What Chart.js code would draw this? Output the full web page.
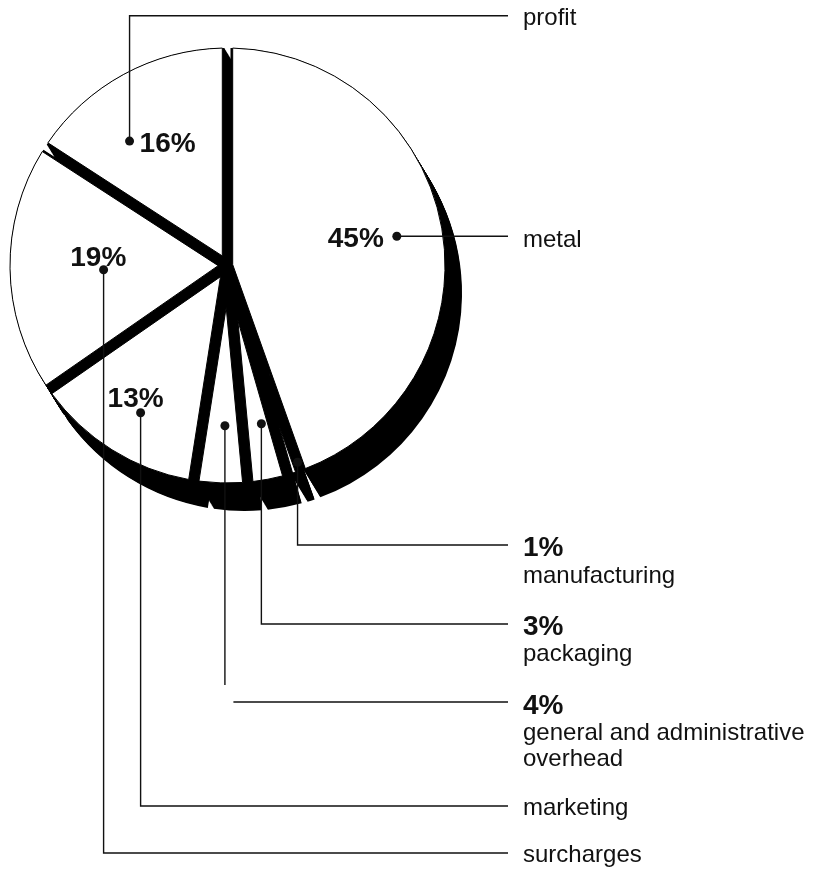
<!DOCTYPE html>
<html>
<head>
<meta charset="utf-8">
<title>Where the money goes</title>
<style>
  html, body { margin: 0; padding: 0; background: #fff; }
  canvas { display: block; }
</style>
<script src="https://cdn.jsdelivr.net/npm/chart.js@4.4.1/dist/chart.umd.min.js"></script>
</head>
<body>
<canvas id="pie" width="814" height="872"></canvas>
<script>
// ---- data -------------------------------------------------------------
const categories = ['metal', 'manufacturing', 'packaging',
  'general and administrative overhead', 'marketing', 'surcharges', 'profit'];
const shares = [45, 1, 3, 4, 13, 19, 16];
// how each category name is broken over lines in the right-hand column
const nameLines = [['metal'], ['manufacturing'], ['packaging'],
  ['general and administrative', 'overhead'], ['marketing'], ['surcharges'], ['profit']];

// ---- look -------------------------------------------------------------
const CHANNEL = 5.2;        // half width of the dark channel between slices (top faces)
const BASE_CHANNEL = 3;     // half width of the gap between the slab bases
const DEPTH = [17, 28];     // extrusion offset of the slab (x, y)
const WALL_REACH = 3;       // side walls seen down the channels reach further
const SIDE_COLOR = '#000';
const LINE_COLOR = '#111';
const TEXT_COLOR = '#111';
const BOLD_FONT = 'bold 28px "Liberation Sans", Arial, Helvetica, sans-serif';
const NAME_FONT = '24px "Liberation Sans", Arial, Helvetica, sans-serif';
const COLUMN_END = 508;     // where the leader lines stop
const COLUMN_TEXT = 523;    // left edge of the right-hand column text

// Callout placement per slice: where the dot sits inside the slice
// (fraction of the slice's sweep, fraction of the radius), where the leader
// turns, and where the texts go.
const callouts = [
  { at: [0.50, 0.79], turnY: null, pct: { side: 'inside', align: 'right', dx: -13, dy: 10.5 }, nameY: [247] },
  { at: [0.00, 0.96], turnY: 545, pct: { side: 'column', y: 556 }, nameY: [583] },
  { at: [0.37, 0.744], turnY: 624, pct: { side: 'column', y: 635 }, nameY: [661] },
  { at: [0.44, 0.737], turnY: 702, stopY: 685, resumeDx: 8.5, pct: { side: 'column', y: 714 }, nameY: [740, 766] },
  { at: [0.467, 0.786], turnY: 806, pct: { side: 'inside', align: 'center', dx: -5, dy: -5.3 }, nameY: [815] },
  { at: [0.484, 0.57], turnY: 853, pct: { side: 'inside', align: 'center', dx: -5.3, dy: -3.3 }, nameY: [862] },
  { at: [0.33, 0.728], turnY: 15.7, pct: { side: 'inside', align: 'left', dx: 10, dy: 11 }, nameY: [25] }
];

// ---- slab-style slice -------------------------------------------------
// A pie slice drawn as a wedge pulled in from its neighbours on both
// straight edges, so that every slice is separated by an even gap.
class SlabArc extends Chart.ArcElement {
  tracePath(ctx, dx, dy, channel = CHANNEL) {
    const { x, y, startAngle, endAngle, outerRadius } =
      this.getProps(['x', 'y', 'startAngle', 'endAngle', 'outerRadius'], true);
    const half = (endAngle - startAngle) / 2;
    if (half <= 0) return false;
    const apex = channel / Math.sin(Math.min(half, Math.PI / 2));
    if (apex >= outerRadius) return false;
    const cut = Math.asin(channel / outerRadius);
    const mid = startAngle + half;
    const cx = x + dx, cy = y + dy;
    ctx.beginPath();
    ctx.moveTo(cx + Math.cos(mid) * apex, cy + Math.sin(mid) * apex);
    ctx.lineTo(cx + Math.cos(startAngle + cut) * outerRadius,
               cy + Math.sin(startAngle + cut) * outerRadius);
    ctx.arc(cx, cy, outerRadius, startAngle + cut, endAngle - cut);
    ctx.closePath();
    return true;
  }
  draw(ctx) {
    const o = this.options;
    ctx.save();
    if (this.tracePath(ctx, 0, 0)) {
      ctx.fillStyle = o.backgroundColor;
      ctx.fill();
      if (o.borderWidth > 0) {
        ctx.lineWidth = o.borderWidth;
        ctx.strokeStyle = o.borderColor;
        ctx.lineJoin = 'round';
        ctx.stroke();
      }
    }
    ctx.restore();
  }
}
SlabArc.id = 'slabArc';
Chart.register(SlabArc);
Chart.defaults.datasets.pie.dataElementType = 'slabArc';

// Black extrusion under the slices: each slice is swept along DEPTH.
const slabSides = {
  id: 'slabSides',
  beforeDatasetsDraw(chart) {
    const ctx = chart.ctx;
    const arcs = chart.getDatasetMeta(0).data;
    if (!arcs.length) return;
    const { x, y, outerRadius } = arcs[0].getProps(['x', 'y', 'outerRadius'], true);
    const steps = Math.ceil(Math.hypot(DEPTH[0], DEPTH[1]));
    ctx.save();
    ctx.fillStyle = SIDE_COLOR;
    for (let k = 0; k <= steps; k++) {
      const t = k / steps;
      arcs.forEach(a => { if (a.tracePath(ctx, DEPTH[0] * t, DEPTH[1] * t, BASE_CHANNEL)) ctx.fill(); });
    }
    // inside the disc the walls fill the channels completely
    ctx.beginPath();
    ctx.arc(x, y, outerRadius, 0, Math.PI * 2);
    ctx.clip();
    const inner = steps * WALL_REACH;
    for (let k = 0; k <= inner; k++) {
      const t = WALL_REACH * k / inner;
      arcs.forEach(a => { if (a.tracePath(ctx, DEPTH[0] * t, DEPTH[1] * t)) ctx.fill(); });
    }
    ctx.restore();
  }
};

// Leader lines, dots, percentages and names.
const callout = {
  id: 'callout',
  afterDatasetsDraw(chart) {
    const ctx = chart.ctx;
    const arcs = chart.getDatasetMeta(0).data;
    ctx.save();
    ctx.strokeStyle = LINE_COLOR;
    ctx.fillStyle = LINE_COLOR;
    ctx.lineWidth = 1.4;
    arcs.forEach((arc, i) => {
      const c = callouts[i];
      const { x, y, startAngle, endAngle, outerRadius } =
        arc.getProps(['x', 'y', 'startAngle', 'endAngle', 'outerRadius'], true);
      const ang = startAngle + (endAngle - startAngle) * c.at[0];
      const rad = outerRadius * c.at[1];
      const px = x + Math.cos(ang) * rad;
      const py = y + Math.sin(ang) * rad;

      // leader
      ctx.beginPath();
      if (c.turnY === null) {
        ctx.moveTo(px, py);
        ctx.lineTo(COLUMN_END, py);
      } else if (c.stopY !== undefined) {
        ctx.moveTo(px, py);
        ctx.lineTo(px, c.stopY);
        ctx.moveTo(px + c.resumeDx, c.turnY);
        ctx.lineTo(COLUMN_END, c.turnY);
      } else {
        ctx.moveTo(px, py);
        ctx.lineTo(px, c.turnY);
        ctx.lineTo(COLUMN_END, c.turnY);
      }
      ctx.stroke();

      // dot
      ctx.beginPath();
      ctx.arc(px, py, 4.5, 0, Math.PI * 2);
      ctx.fill();

      // percentage
      const pctText = shares[i] + '%';
      ctx.save();
      ctx.fillStyle = TEXT_COLOR;
      ctx.font = BOLD_FONT;
      ctx.textBaseline = 'alphabetic';
      if (c.pct.side === 'inside') {
        ctx.textAlign = c.pct.align;
        ctx.fillText(pctText, px + c.pct.dx, py + c.pct.dy);
      } else {
        ctx.textAlign = 'left';
        ctx.fillText(pctText, COLUMN_TEXT, c.pct.y);
      }
      // name
      ctx.font = NAME_FONT;
      ctx.textAlign = 'left';
      nameLines[i].forEach((line, j) => ctx.fillText(line, COLUMN_TEXT, c.nameY[j]));
      ctx.restore();
    });
    ctx.restore();
  }
};

new Chart(document.getElementById('pie'), {
  type: 'pie',
  data: {
    labels: categories,
    datasets: [{
      data: shares,
      backgroundColor: '#fff',
      borderColor: '#000',
      borderWidth: 1
    }]
  },
  options: {
    responsive: false,
    animation: false,
    events: [],
    layout: { padding: { left: 9.5, top: 47.5, right: 368.5, bottom: 388.5 } },
    plugins: { legend: { display: false }, tooltip: { enabled: false } }
  },
  plugins: [slabSides, callout]
});
</script>
</body>
</html>
